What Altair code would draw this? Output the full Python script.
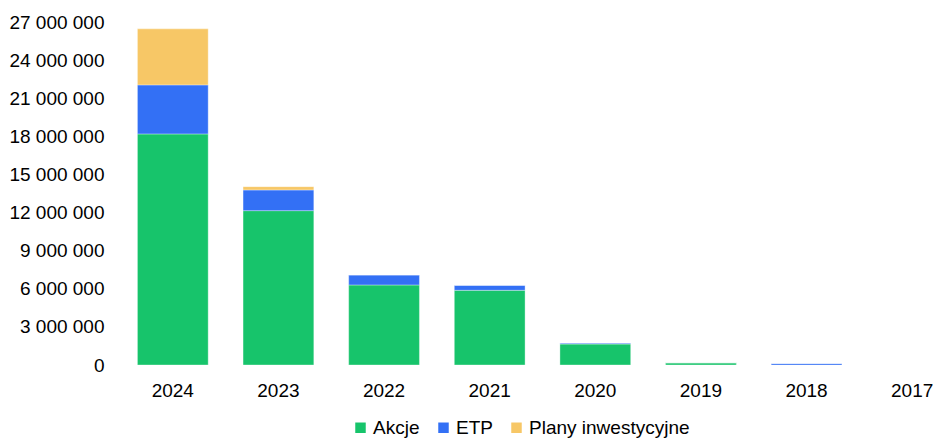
import altair as alt
import pandas as pd

years = ["2024", "2023", "2022", "2021", "2020", "2019", "2018", "2017"]
akcje = [18190000, 12150000, 6300000, 5880000, 1650000, 180000, 0, 0]
etp = [3860000, 1630000, 790000, 390000, 80000, 0, 120000, 0]
plany = [4410000, 260000, 0, 0, 0, 0, 0, 0]

series = ["Akcje", "ETP", "Plany inwestycyjne"]
colors = ["#17C46B", "#3370F5", "#F7C766"]

rows = []
for i, y in enumerate(years):
    for k, (name, vals) in enumerate(zip(series, [akcje, etp, plany])):
        rows.append({"rok": y, "typ": name, "wartosc": vals[i], "ord": k})
df = pd.DataFrame(rows)

FONT = "Liberation Sans"
FS = 19

chart = (
    alt.Chart(df)
    .mark_bar(stroke="white", strokeOpacity=0.35, strokeWidth=1)
    .encode(
        x=alt.X(
            "rok:N",
            sort=years,
            title=None,
            scale=alt.Scale(paddingInner=0.33, paddingOuter=0.165, range=[0, 845]),
            axis=alt.Axis(
                labelAngle=0,
                labelFontSize=FS,
                labelFont=FONT,
                labelColor="#000000",
                labelPadding=16,
                ticks=False,
                domain=False,
                grid=False,
            ),
        ),
        y=alt.Y(
            "wartosc:Q",
            title=None,
            stack="zero",
            scale=alt.Scale(domain=[0, 27000000], nice=False),
            axis=alt.Axis(
                values=[0, 3000000, 6000000, 9000000, 12000000, 15000000,
                        18000000, 21000000, 24000000, 27000000],
                labelExpr="replace(format(datum.value, ',d'), /,/g, ' ')",
                labelFontSize=FS,
                labelFont=FONT,
                labelColor="#000000",
                labelPadding=16,
                ticks=False,
                domain=False,
                grid=False,
            ),
        ),
        color=alt.Color(
            "typ:N",
            scale=alt.Scale(domain=series, range=colors),
            legend=alt.Legend(
                title=None,
                orient="none",
                direction="horizontal",
                legendX=231,
                legendY=396,
                symbolType="square",
                symbolSize=110,
                symbolStrokeWidth=0,
                labelFontSize=FS,
                labelFont=FONT,
                labelColor="#000000",
                labelOffset=3,
                labelLimit=400,
                columnPadding=14,
            ),
        ),
        order=alt.Order("ord:Q", sort="ascending"),
    )
    .properties(
        width=818,
        height=343,
        autosize=alt.AutoSizeParams(type="none"),
        padding={"left": 120, "top": 22, "right": 0, "bottom": 73},
    )
    .configure_view(stroke=None)
)

chart.save("out.html", embed_options={"renderer": "svg", "actions": False})
